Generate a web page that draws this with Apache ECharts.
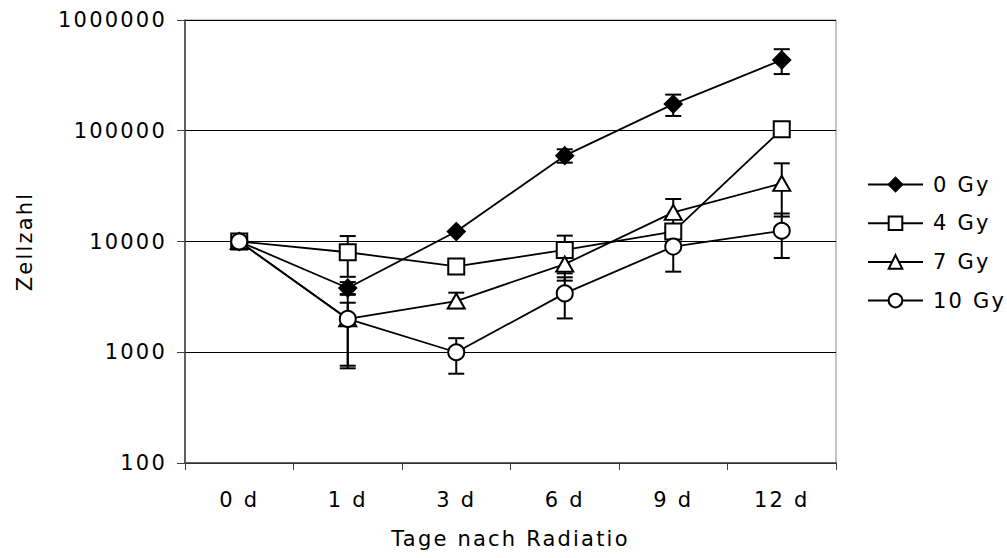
<!DOCTYPE html>
<html>
<head>
<meta charset="utf-8">
<script src="https://cdn.jsdelivr.net/npm/echarts@6/dist/echarts.min.js"></script>
<style>
  html, body { margin: 0; padding: 0; background: #fff; }
  #chart { width: 1007px; height: 558px; }
  #chart svg text { letter-spacing: 2.2px; }
</style>
</head>
<body>
<div id="chart"></div>
<script>
// ---- data ----
const categories = ['0 d', '1 d', '3 d', '6 d', '9 d', '12 d'];
const seriesNames = ['0 Gy', '4 Gy', '7 Gy', '10 Gy'];
const yTickLabels = ['100', '1000', '10000', '100000', '1000000'];

const gy0      = [10000, 3800, 12300, 59600, 174000, 435000];
const gy0Low   = [null, 3350, null, 51500, 136000, 325000];
const gy0High  = [null, 4300, null, 68000, 212000, 545000];

const gy4      = [10000, 8000, 5950, 8400, 12300, 103000];
const gy4Low   = [null, 4800, null, 4430, null, null];
const gy4High  = [null, 11200, null, 11300, null, null];

const gy7      = [10000, 2000, 2900, 6250, 18300, 33500];
const gy7Low   = [null, 756, 2500, 5160, 12400, 16800];
const gy7High  = [null, 3300, 3450, 7300, 24200, 50800];

const gy10     = [10000, 2000, 1000, 3400, 9000, 12500];
const gy10Low  = [null, 716, 640, 2020, 5340, 7100];
const gy10High = [null, 2800, 1340, 4750, 12700, 17900];

// ---- build ----
const FONT = '"DejaVu Sans", "Liberation Sans", Arial, sans-serif';
const values = [gy0, gy4, gy7, gy10];
const lows = [gy0Low, gy4Low, gy7Low, gy10Low];
const highs = [gy0High, gy4High, gy7High, gy10High];
const symbols = ['diamond', 'rect', 'triangle', 'circle'];
const symSizes = [[17, 17], 16, [17, 15], 16];
const fills = ['#000', '#fff', '#fff', '#fff'];

const errData = [];
lows.forEach((lo, s) => {
  lo.forEach((v, i) => {
    if (v != null && highs[s][i] != null) errData.push([i, v, highs[s][i]]);
  });
});

const lineSeries = seriesNames.map((name, s) => ({
  name: name,
  type: 'line',
  data: values[s],
  symbol: symbols[s],
  symbolSize: symSizes[s],
  showAllSymbol: true,
  z: 3,
  lineStyle: { color: '#000', width: 1.8 },
  itemStyle: { color: fills[s], borderColor: '#000', borderWidth: 2, opacity: 1 },
  emphasis: { disabled: true },
  animation: false
}));

const errSeries = {
  type: 'custom',
  name: 'err',
  data: errData,
  encode: { x: 0, y: [1, 2] },
  z: 2,
  silent: true,
  animation: false,
  renderItem: function (params, api) {
    const x = api.value(0);
    const lo = api.coord([x, api.value(1)]);
    const hi = api.coord([x, api.value(2)]);
    const hw = 8;
    const st = { stroke: '#000', lineWidth: 2 };
    return {
      type: 'group',
      children: [
        { type: 'line', shape: { x1: lo[0], y1: lo[1], x2: hi[0], y2: hi[1] }, style: st },
        { type: 'line', shape: { x1: lo[0] - hw, y1: lo[1], x2: lo[0] + hw, y2: lo[1] }, style: st },
        { type: 'line', shape: { x1: hi[0] - hw, y1: hi[1], x2: hi[0] + hw, y2: hi[1] }, style: st }
      ]
    };
  }
};

const chart = echarts.init(document.getElementById('chart'), null, { renderer: 'svg' });
chart.setOption({
  backgroundColor: '#fff',
  animation: false,
  textStyle: { fontFamily: FONT },
  grid: {
    left: 185, top: 20, width: 651, height: 443,
    show: true, borderColor: '#888', borderWidth: 1, backgroundColor: 'transparent'
  },
  legend: {
    data: seriesNames,
    orient: 'vertical',
    left: 867,
    top: 174,
    padding: 0,
    itemWidth: 55,
    itemHeight: 17,
    itemGap: 17.7,
    selectedMode: false,
    textStyle: { fontFamily: FONT, fontSize: 21, lineHeight: 21, color: '#000', padding: [0, 0, 0, 5] }
  },
  xAxis: {
    type: 'category',
    data: categories,
    boundaryGap: true,
    name: 'Tage nach Radiatio',
    nameLocation: 'middle',
    nameGap: 65,
    nameTextStyle: { fontFamily: FONT, fontSize: 21, color: '#000' },
    axisLine: { show: true, lineStyle: { color: '#404040', width: 1.5 } },
    axisTick: { show: true, alignWithLabel: false, length: 7, lineStyle: { color: '#404040', width: 1 } },
    axisLabel: { fontFamily: FONT, fontSize: 21, color: '#000', margin: 26 },
    splitLine: { show: false }
  },
  yAxis: {
    type: 'log',
    logBase: 10,
    min: 100,
    max: 1000000,
    name: 'Zellzahl',
    nameLocation: 'middle',
    nameRotate: 90,
    nameGap: 150,
    nameTextStyle: { fontFamily: FONT, fontSize: 21, color: '#000' },
    axisLine: { show: true, lineStyle: { color: '#404040', width: 1.5 } },
    axisTick: { show: true, inside: false, length: 8, lineStyle: { color: '#404040', width: 1 } },
    axisLabel: {
      fontFamily: FONT, fontSize: 21, color: '#000', margin: 18,
      formatter: function (v) {
        const idx = Math.round(Math.log10(v)) - 2;
        return yTickLabels[idx] !== undefined ? yTickLabels[idx] : '';
      }
    },
    splitLine: { show: true, lineStyle: { color: '#000', width: 1 } },
    minorTick: { show: false },
    minorSplitLine: { show: false }
  },
  series: [errSeries].concat(lineSeries)
});
</script>
</body>
</html>
